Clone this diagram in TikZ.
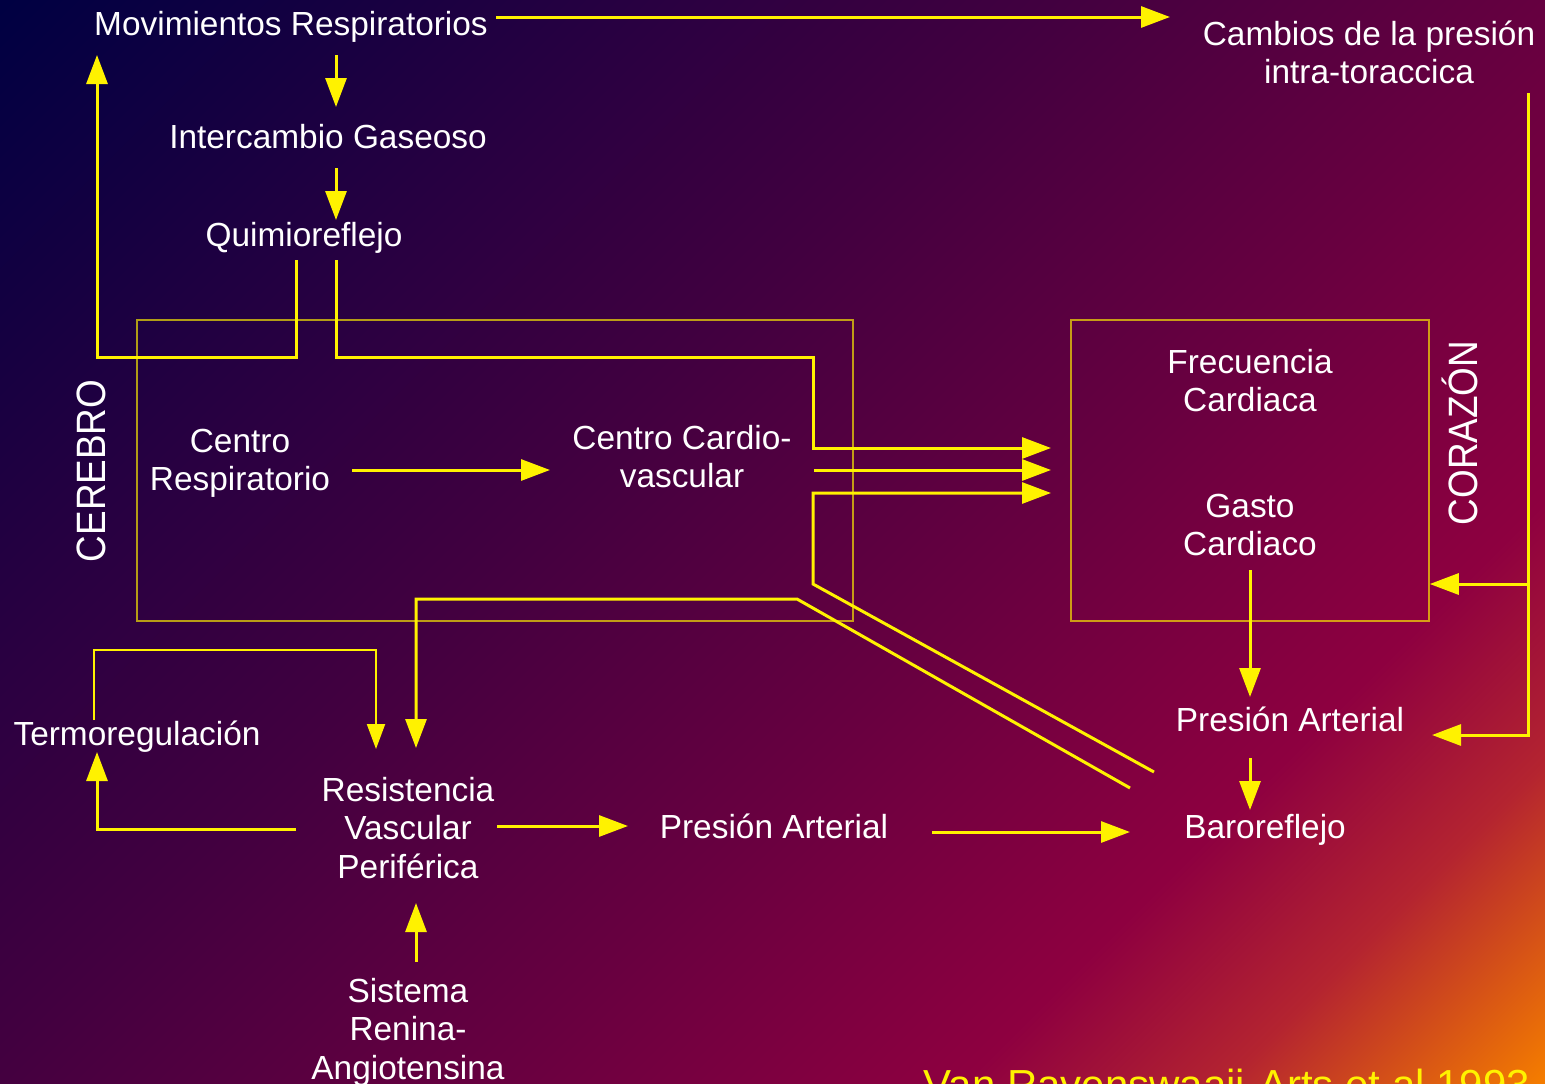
\documentclass[tikz,border=0pt]{standalone}
\usepackage{fontspec}
\setmainfont{Liberation Sans}
\usetikzlibrary{arrows.meta}
% slide background: navy -> purple -> magenta -> orange, diagonal
\definecolor{bgA}{RGB}{0,0,66}
\definecolor{bgB}{RGB}{66,0,64}
\definecolor{bgC}{RGB}{104,0,64}
\definecolor{bgD}{RGB}{142,0,64}
\definecolor{bgE}{RGB}{180,36,48}
\definecolor{bgF}{RGB}{244,124,0}
\pgfdeclarehorizontalshading{slidebg}{100bp}{%
  color(0bp)=(bgA); color(14.64bp)=(bgA); color(42.92bp)=(bgB);
  color(57.07bp)=(bgC); color(69.79bp)=(bgD); color(76.87bp)=(bgE);
  color(85.36bp)=(bgF); color(100bp)=(bgF)}
\tikzset{
  % multi-line labels are placed by the baseline of their last line
  lbl/.style={text=white, font=\fontsize{33.4}{38.5}\selectfont, inner sep=0pt, align=center, anchor=base},
  side/.style={text=white, font=\fontsize{41}{46}\selectfont, inner sep=0pt, rotate=90, anchor=base},
  flow/.style={draw=yellow, line width=3pt, -{Triangle[length=29pt,width=21pt]}},
  thinflow/.style={draw=yellow, line width=2pt, -{Triangle[length=25pt,width=18pt]}},
  region/.style={draw=yellow, draw opacity=0.65, line width=1.5pt, inner sep=0pt},
}
\begin{document}
\begin{tikzpicture}[x=1pt,y=-1pt]
\useasboundingbox (0,0) rectangle (1545,1084);
\clip (0,0) rectangle (1545,1084);
\shade[shading=slidebg, shading angle=-45] (0,0) rectangle (1545,1084);

% organ regions
\node[region, minimum width=716pt, minimum height=301pt] (brain) at (495,470.5) {};
\node[region, minimum width=358pt, minimum height=301pt] (heart) at (1250,470.5) {};
\node[side] (cerebro) at (105,471) {\scalebox{0.9}[1]{CEREBRO}};
\node[side] (corazon) at (1477,433) {\scalebox{0.9}[1]{CORAZÓN}};

% labels
\node[lbl] (mov) at (291,35) {Movimientos Respiratorios};
\node[lbl] (inter) at (328,148) {Intercambio Gaseoso};
\node[lbl] (quim) at (304,246) {Quimioreflejo};
\node[lbl] (camb) at (1369,83.5) {Cambios de la presión\\intra-toraccica};
\node[lbl] (cresp) at (240,490.5) {Centro\\Respiratorio};
\node[lbl] (ccv) at (682,487.5) {Centro Cardio-\\vascular};
\node[lbl] (frec) at (1250,411.5) {Frecuencia\\Cardiaca};
\node[lbl] (gasto) at (1250,555.5) {Gasto\\Cardiaco};
\node[lbl] (termo) at (137,745) {Termoregulación};
\node[lbl] (resist) at (408,878) {Resistencia\\Vascular\\Periférica};
\node[lbl] (pa1) at (774,838) {Presión Arterial};
\node[lbl] (pa2) at (1290,731) {Presión Arterial};
\node[lbl] (baro) at (1265,838) {Baroreflejo};
\node[lbl] (sra) at (408,1079) {Sistema\\Renina-\\Angiotensina};
\node[lbl, text=yellow, font=\fontsize{42}{48}\selectfont] (cite) at (1227,1099) {Van Ravenswaaij-Arts et al 1993};

% connector end points
\coordinate (mov-r) at (496,17);   \coordinate (camb-l) at (1170,17);
\coordinate (mov-b) at (336,55);   \coordinate (inter-t) at (336,107);
\coordinate (inter-b) at (336,168); \coordinate (quim-t) at (336,220);
\coordinate (quim-bl) at (296,260); \coordinate (quim-br) at (336,260);
\coordinate (mov-bl) at (97,55);    \coordinate (k1) at (97,357);
\coordinate (k2) at (813,357);      \coordinate (fc-in) at (1051,448);
\coordinate (ccv-r) at (814,470);   \coordinate (hm-in) at (1051,470);
\coordinate (gc-in) at (1051,493);  \coordinate (k3) at (813,584);
\coordinate (baro-u) at (1154,772); \coordinate (baro-l) at (1130,788);
\coordinate (k4) at (797,599);      \coordinate (res-t2) at (416,748);
\coordinate (cresp-r) at (352,470); \coordinate (ccv-l) at (550,470);
\coordinate (gasto-b) at (1250,570); \coordinate (pa2-t) at (1250,697);
\coordinate (pa2-b) at (1250,758);  \coordinate (baro-t) at (1250,810);
\coordinate (camb-b) at (1528,93);  \coordinate (pa2-r) at (1432,735);
\coordinate (k5) at (1528,584);
\coordinate (pa1-r) at (932,832);   \coordinate (baro-w) at (1130,832);
\coordinate (res-r) at (497,826);   \coordinate (pa1-l) at (628,826);
\coordinate (res-l) at (296,829);   \coordinate (termo-b) at (97,752);
\coordinate (termo-t) at (94,720);  \coordinate (k6) at (376,650);
\coordinate (res-t1) at (376,749);
\coordinate (sra-t) at (416,962);   \coordinate (res-b) at (416,903);

% respiratory chain
\draw[flow] (mov-r) -- (camb-l);
\draw[flow] (mov-b) -- (inter-t);
\draw[flow] (inter-b) -- (quim-t);
\draw[flow] (quim-bl) |- (k1) -- (mov-bl);
\draw[flow] (quim-br) |- (k2) |- (fc-in);

% brain centres to the heart
\draw[flow] (cresp-r) -- (ccv-l);
\draw[flow] (ccv-r) -- (hm-in);
\draw[flow] (baro-u) -- (k3) |- (gc-in);
\draw[flow] (baro-l) -- (k4) -| (res-t2);

% heart and pressure
\draw[flow] (gasto-b) -- (pa2-t);
\draw[flow] (pa2-b) -- (baro-t);
\draw[flow] (camb-b) |- (pa2-r);
\draw[flow] (k5) -- (heart.east |- k5);

% peripheral resistance loop
\draw[flow] (res-r) -- (pa1-l);
\draw[flow] (pa1-r) -- (baro-w);
\draw[flow] (res-l) -| (termo-b);
\draw[thinflow] (termo-t) |- (k6) -- (res-t1);
\draw[flow] (sra-t) -- (res-b);
\end{tikzpicture}
\end{document}
